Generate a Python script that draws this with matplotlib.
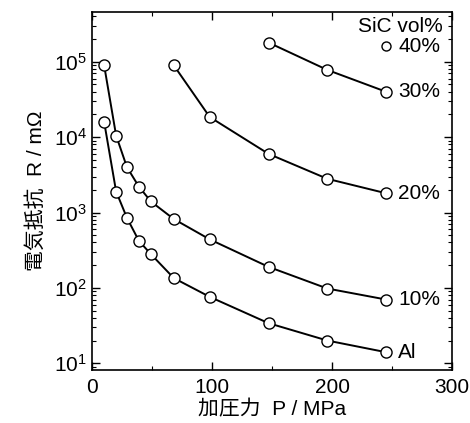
import matplotlib
matplotlib.use('Agg')
import matplotlib.pyplot as plt
from matplotlib.ticker import LogLocator, MultipleLocator, FixedLocator

plt.rcParams['font.family'] = ['Liberation Sans', 'Noto Sans CJK JP', 'DejaVu Sans']
plt.rcParams['mathtext.fontset'] = 'custom'
plt.rcParams['mathtext.rm'] = 'Liberation Sans'
plt.rcParams['mathtext.it'] = 'Liberation Sans:italic'

# Pressure (MPa) and electrical resistance (mOhm) for each SiC content
p_al = [10, 20, 29, 39, 49, 68, 98, 147, 196, 245]
r_al = [1.6e4, 1.9e3, 8.5e2, 4.2e2, 2.8e2, 1.35e2, 76, 34, 20, 14]

p_10 = [10, 20, 29, 39, 49, 68, 98, 147, 196, 245]
r_10 = [9.0e4, 1.05e4, 4.0e3, 2.2e3, 1.4e3, 8.2e2, 4.4e2, 1.9e2, 98, 70]

p_20 = [68, 98, 147, 196, 245]
r_20 = [9.0e4, 1.85e4, 6.0e3, 2.8e3, 1.8e3]

p_30 = [147, 196, 245]
r_30 = [1.8e5, 7.8e4, 4.0e4]

p_40 = [245]
r_40 = [1.6e5]

series = [
    (p_al, r_al, 'Al'),
    (p_10, r_10, '10%'),
    (p_20, r_20, '20%'),
    (p_30, r_30, '30%'),
]

fig = plt.figure(figsize=(4.7, 4.23), dpi=100)
ax = fig.add_axes([0.196, 0.125, 0.766, 0.847])

for p, r, lab in series:
    ax.plot(p, r, color='black', linewidth=1.4, marker='o', markersize=8,
            markerfacecolor='white', markeredgecolor='black', markeredgewidth=1.0)
    ax.text(p[-1] + 10, r[-1], lab, fontsize=15, va='center', ha='left')

ax.plot(p_40, r_40, linestyle='none', marker='o', markersize=6.5,
        markerfacecolor='white', markeredgecolor='black', markeredgewidth=1.0)
ax.text(p_40[0] + 10, r_40[0], '40%', fontsize=15, va='center', ha='left')
ax.text(292, 2.9e5, 'SiC vol%', fontsize=15, va='center', ha='right')

ax.set_yscale('log')
ax.set_xlim(0, 300)
ax.set_ylim(8.1, 4.6e5)
ax.xaxis.set_major_locator(FixedLocator([0, 100, 200, 300]))
ax.xaxis.set_minor_locator(MultipleLocator(50))
ax.yaxis.set_major_locator(LogLocator(base=10, numticks=10))
ax.yaxis.set_minor_locator(LogLocator(base=10, subs=range(2, 10), numticks=20))

ax.tick_params(which='both', direction='in', top=True, right=True, labelsize=15)
ax.tick_params(axis='x', pad=6)
ax.tick_params(which='major', length=6, width=1)
ax.tick_params(which='minor', length=3, width=0.8)
for s in ax.spines.values():
    s.set_linewidth(1.2)

ax.set_xlabel('加圧力  P / MPa', fontsize=15, labelpad=2)
ax.set_ylabel('電気抵抗  R / mΩ', fontsize=15, labelpad=6)

fig.savefig('out.png', dpi=100)
